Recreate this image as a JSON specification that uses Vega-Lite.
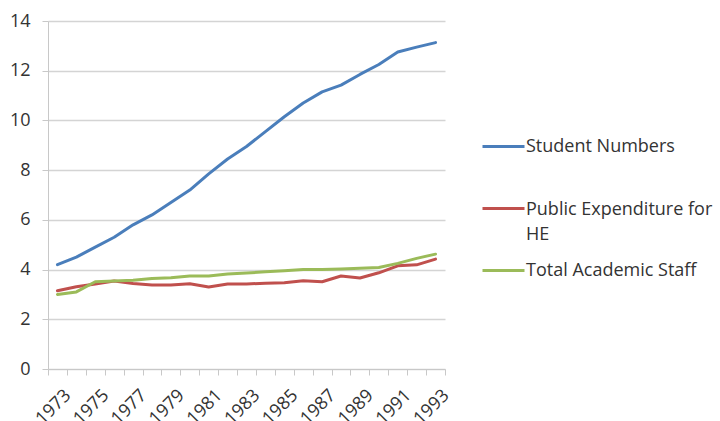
{
  "$schema": "https://vega.github.io/schema/vega-lite/v6.json",
  "width": 397,
  "height": 348,
  "autosize": {"type": "none"},
  "padding": {"left": 48, "top": 21, "right": 275, "bottom": 52},
  "background": "white",
  "config": {
    "view": {"stroke": null},
    "font": "Open Sans"
  },
  "data": {
    "values": [
      {"year": 1973, "series": "Student Numbers", "value": 4.2},
      {"year": 1974, "series": "Student Numbers", "value": 4.5},
      {"year": 1975, "series": "Student Numbers", "value": 4.9},
      {"year": 1976, "series": "Student Numbers", "value": 5.3},
      {"year": 1977, "series": "Student Numbers", "value": 5.8},
      {"year": 1978, "series": "Student Numbers", "value": 6.2},
      {"year": 1979, "series": "Student Numbers", "value": 6.7},
      {"year": 1980, "series": "Student Numbers", "value": 7.2},
      {"year": 1981, "series": "Student Numbers", "value": 7.85},
      {"year": 1982, "series": "Student Numbers", "value": 8.45},
      {"year": 1983, "series": "Student Numbers", "value": 8.95},
      {"year": 1984, "series": "Student Numbers", "value": 9.55},
      {"year": 1985, "series": "Student Numbers", "value": 10.15},
      {"year": 1986, "series": "Student Numbers", "value": 10.7},
      {"year": 1987, "series": "Student Numbers", "value": 11.15},
      {"year": 1988, "series": "Student Numbers", "value": 11.42},
      {"year": 1989, "series": "Student Numbers", "value": 11.85},
      {"year": 1990, "series": "Student Numbers", "value": 12.25},
      {"year": 1991, "series": "Student Numbers", "value": 12.75},
      {"year": 1992, "series": "Student Numbers", "value": 12.95},
      {"year": 1993, "series": "Student Numbers", "value": 13.13},
      {"year": 1973, "series": "Public Expenditure for HE", "value": 3.15},
      {"year": 1974, "series": "Public Expenditure for HE", "value": 3.31},
      {"year": 1975, "series": "Public Expenditure for HE", "value": 3.42},
      {"year": 1976, "series": "Public Expenditure for HE", "value": 3.54},
      {"year": 1977, "series": "Public Expenditure for HE", "value": 3.44},
      {"year": 1978, "series": "Public Expenditure for HE", "value": 3.38},
      {"year": 1979, "series": "Public Expenditure for HE", "value": 3.38},
      {"year": 1980, "series": "Public Expenditure for HE", "value": 3.43},
      {"year": 1981, "series": "Public Expenditure for HE", "value": 3.3},
      {"year": 1982, "series": "Public Expenditure for HE", "value": 3.42},
      {"year": 1983, "series": "Public Expenditure for HE", "value": 3.42},
      {"year": 1984, "series": "Public Expenditure for HE", "value": 3.45},
      {"year": 1985, "series": "Public Expenditure for HE", "value": 3.47},
      {"year": 1986, "series": "Public Expenditure for HE", "value": 3.55},
      {"year": 1987, "series": "Public Expenditure for HE", "value": 3.51},
      {"year": 1988, "series": "Public Expenditure for HE", "value": 3.74},
      {"year": 1989, "series": "Public Expenditure for HE", "value": 3.66},
      {"year": 1990, "series": "Public Expenditure for HE", "value": 3.87},
      {"year": 1991, "series": "Public Expenditure for HE", "value": 4.15},
      {"year": 1992, "series": "Public Expenditure for HE", "value": 4.19},
      {"year": 1993, "series": "Public Expenditure for HE", "value": 4.42},
      {"year": 1973, "series": "Total Academic Staff", "value": 3.0},
      {"year": 1974, "series": "Total Academic Staff", "value": 3.1},
      {"year": 1975, "series": "Total Academic Staff", "value": 3.51},
      {"year": 1976, "series": "Total Academic Staff", "value": 3.54},
      {"year": 1977, "series": "Total Academic Staff", "value": 3.57},
      {"year": 1978, "series": "Total Academic Staff", "value": 3.64},
      {"year": 1979, "series": "Total Academic Staff", "value": 3.67},
      {"year": 1980, "series": "Total Academic Staff", "value": 3.74},
      {"year": 1981, "series": "Total Academic Staff", "value": 3.74},
      {"year": 1982, "series": "Total Academic Staff", "value": 3.82},
      {"year": 1983, "series": "Total Academic Staff", "value": 3.86},
      {"year": 1984, "series": "Total Academic Staff", "value": 3.91},
      {"year": 1985, "series": "Total Academic Staff", "value": 3.95},
      {"year": 1986, "series": "Total Academic Staff", "value": 4.0},
      {"year": 1987, "series": "Total Academic Staff", "value": 4.0},
      {"year": 1988, "series": "Total Academic Staff", "value": 4.02},
      {"year": 1989, "series": "Total Academic Staff", "value": 4.05},
      {"year": 1990, "series": "Total Academic Staff", "value": 4.08},
      {"year": 1991, "series": "Total Academic Staff", "value": 4.25},
      {"year": 1992, "series": "Total Academic Staff", "value": 4.45},
      {"year": 1993, "series": "Total Academic Staff", "value": 4.62}
    ]
  },
  "mark": {"type": "line", "strokeWidth": 3, "strokeCap": "round", "strokeJoin": "round"},
  "encoding": {
    "x": {
      "field": "year",
      "type": "ordinal",
      "bandPosition": 0.5,
      "scale": {"type": "band", "paddingInner": 0, "paddingOuter": 0},
      "axis": {
        "title": null,
        "tickBand": "extent",
        "labelAngle": -45,
        "labelExpr": "datum.value % 2 == 1 ? datum.label : ''",
        "labelFontSize": 18,
        "labelColor": "#333333",
        "labelPadding": 11,
        "labelOffset": 4,
        "domainColor": "#c8c8c8",
        "tickColor": "#c8c8c8",
        "tickSize": 6,
        "grid": false
      }
    },
    "y": {
      "field": "value",
      "type": "quantitative",
      "scale": {"domain": [0, 14], "nice": false},
      "axis": {
        "title": null,
        "values": [0, 2, 4, 6, 8, 10, 12, 14],
        "labelFontSize": 18,
        "labelColor": "#333333",
        "labelPadding": 12,
        "domainColor": "#c8c8c8",
        "tickColor": "#c8c8c8",
        "tickSize": 6,
        "gridColor": "#d4d4d4",
        "gridWidth": 1.5
      }
    },
    "color": {
      "field": "series",
      "type": "nominal",
      "scale": {
        "domain": ["Student Numbers", "Public Expenditure for HE", "Total Academic Staff"],
        "range": ["#4a7ebb", "#c0504d", "#9bbb59"]
      },
      "legend": {
        "title": null,
        "orient": "none",
        "legendX": 433,
        "legendY": 103,
        "gridAlign": "all",
        "symbolType": "stroke",
        "symbolSize": 1764,
        "symbolStrokeWidth": 3,
        "labelFontSize": 18,
        "labelColor": "#333333",
        "labelOffset": 0,
        "labelLimit": 300,
        "rowPadding": 4,
        "labelExpr": "datum.label == 'Public Expenditure for HE' ? ['Public Expenditure for', 'HE'] : datum.label",
        "encode": {
          "labels": {
            "update": {
              "lineHeight": {"value": 25},
              "dy": {"signal": "datum.value == 'Public Expenditure for HE' ? 1.5 : 0"}
            }
          }
        }
      }
    }
  }
}
